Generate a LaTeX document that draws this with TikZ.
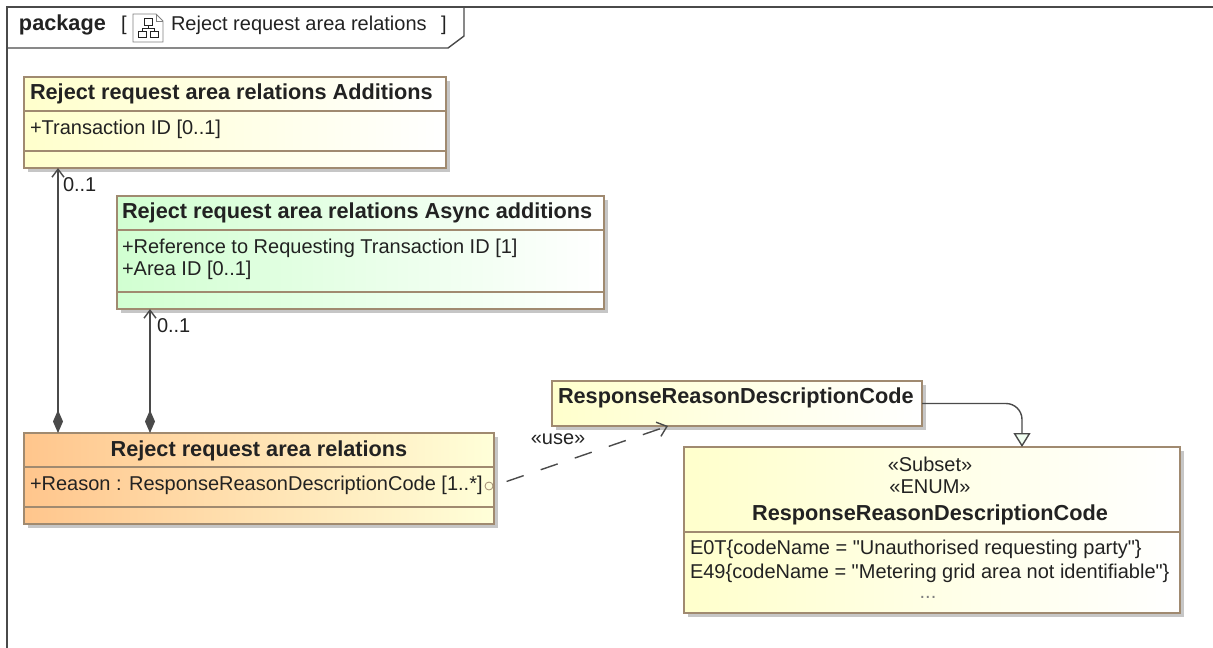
\documentclass[tikz,border=0pt]{standalone}
\usepackage{fontspec}
\setmainfont{Liberation Sans}[Ligatures=TeXOff]
\usetikzlibrary{arrows.meta,shadows}
\definecolor{boxline}{HTML}{A08A70}
\definecolor{wire}{HTML}{4A4A4A}
\definecolor{ink}{HTML}{222222}
\tikzstyle{classbox} = [rectangle, draw=boxline, line width=1.4pt, inner sep=0pt, outer sep=0pt, drop shadow={shadow xshift=4pt, shadow yshift=-4pt, opacity=.45}]
\tikzstyle{yellowbox} = [classbox, left color=yellow!20, right color=white]
\tikzstyle{greenbox} = [classbox, left color=green!18, right color=white]
\tikzstyle{orangebox} = [classbox, left color=orange!45, right color=yellow!15]
\tikzstyle{plain} = [inner sep=0pt, outer sep=0pt, text=ink, text height=15pt, text depth=2pt, font=\fontsize{20}{22}\selectfont]
\tikzstyle{title} = [plain, font=\fontsize{21.7}{24}\selectfont\bfseries]
\tikzstyle{divider} = [draw=boxline, line width=1.4pt]
\tikzstyle{composition} = [draw=wire, line width=1.4pt, {Diamond[length=23pt,width=10pt]}-{Straight Barb[length=8pt,width=12pt]}]
\tikzstyle{dependency} = [draw=wire, line width=1.4pt, dash pattern=on 18pt off 18pt, dash phase=22pt, -{Straight Barb[length=9pt,width=15pt]}]
\tikzstyle{generalization} = [draw=wire, line width=1.4pt, rounded corners=16pt, -{Triangle[open,length=14pt,width=17pt,fill=green!5]}]
\begin{document}
\begin{tikzpicture}[x=1pt,y=-1pt]
    \useasboundingbox (0,0) rectangle (1213,648);
    % frame and tab
    \draw [wire, line width=1.4pt] (7,648) -- (7,7) -- (1213,7);
    \draw [wire, line width=1.4pt] (7,48) -- (448,48) -- (464,36) -- (464,7);
    \node (framekind) [title, anchor=west] at (19,24) {package};
    \node (openbracket) [plain, anchor=west] at (121,24) {[};
    \node (frametitle) [plain, anchor=west] at (171,24) {Reject request area relations};
    \node (closebracket) [plain, anchor=west] at (441,24) {]};
    % diagram icon
    \draw [gray, line width=.8pt, fill=white] (133,14) -- (156,14) -- (163,21) -- (163,42) -- (133,42) -- cycle;
    \draw [gray, line width=.8pt] (156,14) -- (156,21) -- (163,21);
    \draw [ink, line width=.8pt] (144,18) rectangle (152,25) (138,31) rectangle (146,37) (150,31) rectangle (158,37);
    \draw [ink, line width=.8pt] (148,25) -- (148,28) (142,31) -- (142,28) -- (154,28) -- (154,31);

    % classes
    \node (additions) [yellowbox, minimum width=422pt, minimum height=91pt] at (235,122.5) {};
    \draw [divider] (additions.west |- 0,111) -- (additions.east |- 0,111);
    \draw [divider] (additions.west |- 0,151) -- (additions.east |- 0,151);
    \node (additionstitle) [title, anchor=west] at (30,93) {Reject request area relations Additions};
    \node (additionsattr) [plain, anchor=west] at (30,128) {+Transaction ID [0..1]};

    \node (async) [greenbox, minimum width=487pt, minimum height=113pt] at (360.5,252.5) {};
    \draw [divider] (async.west |- 0,230) -- (async.east |- 0,230);
    \draw [divider] (async.west |- 0,292) -- (async.east |- 0,292);
    \node (asynctitle) [title, anchor=west] at (122,212) {Reject request area relations Async additions};
    \node (asyncattra) [plain, anchor=west] at (122,247) {+Reference to Requesting Transaction ID [1]};
    \node (asyncattrb) [plain, anchor=west] at (122,269) {+Area ID [0..1]};

    \node (relations) [orangebox, minimum width=470pt, minimum height=91pt] at (259,478.5) {};
    \draw [divider] (relations.west |- 0,467) -- (relations.east |- 0,467);
    \draw [divider] (relations.west |- 0,507) -- (relations.east |- 0,507);
    \node (relationstitle) [title] at (259,450) {Reject request area relations};
    \node (reason) [plain, anchor=west] at (30,484) {+Reason : ResponseReasonDescriptionCode [1..*]};
    \node (port) [circle, draw=boxline, line width=.8pt, minimum size=8pt, inner sep=0pt] at (489,486) {};

    \node (code) [yellowbox, minimum width=370pt, minimum height=45pt] at (737,403.5) {};
    \node (codetitle) [title, anchor=west] at (558,397) {ResponseReasonDescriptionCode};

    \node (subset) [yellowbox, minimum width=496pt, minimum height=166pt] at (932,530) {};
    \draw [divider] (subset.west |- 0,532) -- (subset.east |- 0,532);
    \node (subsetstereo) [plain] at (930,465) {«Subset»};
    \node (enumstereo) [plain] at (930,487) {«ENUM»};
    \node (subsettitle) [title] at (930,514) {ResponseReasonDescriptionCode};
    \node (literala) [plain, anchor=west] at (690,548) {E0T\{codeName = "Unauthorised requesting party"\}};
    \node (literalb) [plain, anchor=west] at (690,572) {E49\{codeName = "Metering grid area not identifiable"\}};
    \node (more) [plain, text=gray] at (928,592) {...};

    % connectors
    \draw [composition] ([xshift=34pt]relations.north west) -- ([xshift=34pt]additions.south west);
    \draw [composition] ([xshift=126pt]relations.north west) -- ([xshift=33pt]async.south west);
    \draw [dependency] (port.east) -- ([xshift=116pt]code.south west);
    \draw [generalization] (code.east) -| ([xshift=90pt]subset.north);
    \node (multa) [plain, anchor=west] at (63,185) {0..1};
    \node (multb) [plain, anchor=west] at (157,326) {0..1};
    \node (uselabel) [plain] at (558,438) {«use»};
\end{tikzpicture}
\end{document}
